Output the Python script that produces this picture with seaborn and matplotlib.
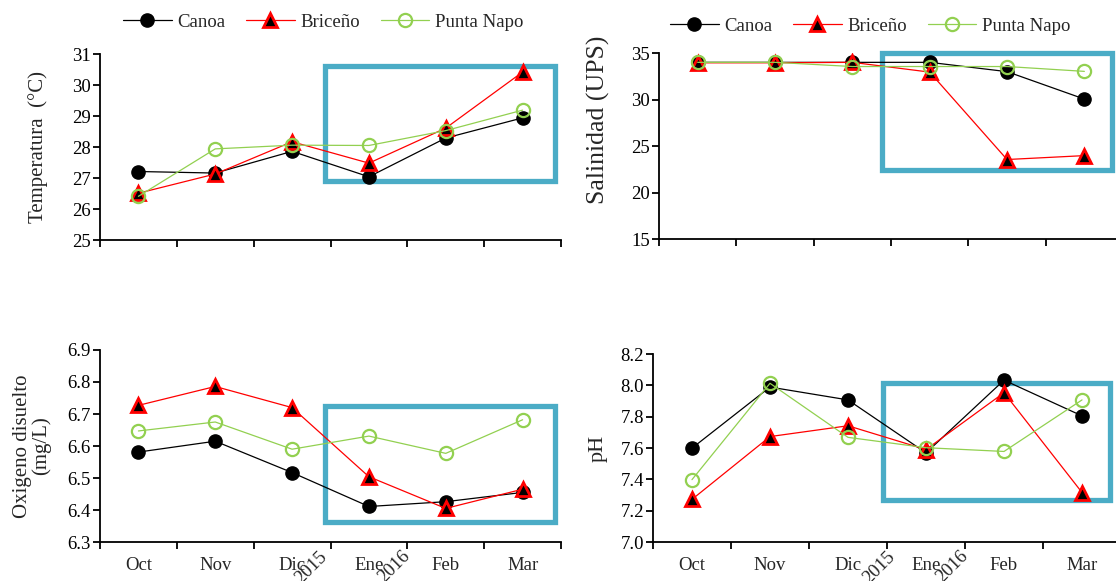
import numpy as np
import pandas as pd
import matplotlib
matplotlib.use("Agg")
import matplotlib.pyplot as plt
import matplotlib.patches as patches
import matplotlib.transforms as mtransforms
import seaborn as sns

# ---- data -------------------------------------------------------------
months = ["Oct", "Nov", "Dic", "Ene", "Feb", "Mar"]
sites = ["Canoa", "Briceño", "Punta Napo"]

temp_canoa = [27.21, 27.16, 27.86, 27.04, 28.29, 28.94]
temp_briceno = [26.51, 27.13, 28.17, 27.48, 28.61, 30.42]
temp_punta = [26.41, 27.94, 28.06, 28.05, 28.53, 29.19]

sal_canoa = [34.0, 34.0, 34.0, 34.0, 33.0, 30.05]
sal_briceno = [33.95, 33.95, 34.0, 32.95, 23.55, 23.97]
sal_punta = [34.0, 34.0, 33.55, 33.55, 33.55, 33.03]

oxi_canoa = [6.581, 6.615, 6.517, 6.411, 6.426, 6.455]
oxi_briceno = [6.727, 6.786, 6.720, 6.504, 6.405, 6.465]
oxi_punta = [6.647, 6.675, 6.590, 6.631, 6.577, 6.682]

ph_canoa = [7.599, 7.989, 7.907, 7.569, 8.033, 7.805]
ph_briceno = [7.272, 7.673, 7.742, 7.590, 7.953, 7.316]
ph_punta = [7.398, 8.013, 7.668, 7.602, 7.578, 7.907]

year_labels = ["2015", "2016"]

# ---- styling ----------------------------------------------------------
sns.set_theme(style="white")
plt.rcParams["font.family"] = "serif"
plt.rcParams["font.serif"] = ["Liberation Serif", "DejaVu Serif"]
plt.rcParams["axes.edgecolor"] = "black"
plt.rcParams["axes.linewidth"] = 1.3

FAMILY = ["Liberation Serif", "DejaVu Serif"]
GREEN = "#92D050"
TEAL = "#4BACC6"

site_styles = {
    "Canoa": dict(color="black", marker="o", markerfacecolor="black",
                  markeredgecolor="black", markersize=9.5, markeredgewidth=1.0),
    "Briceño": dict(color="red", marker="^", markerfacecolor="black",
                    markeredgecolor="red", markersize=9.5, markeredgewidth=2.0),
    "Punta Napo": dict(color=GREEN, marker="o", markerfacecolor="none",
                       markeredgecolor=GREEN, markersize=9.5, markeredgewidth=1.6),
}

TICK_FS = 13.5

fig = plt.figure(figsize=(11.16, 5.81), dpi=100)


def draw_panel(rect, series, ylim, yticks, yfmt, ylabel, ylabel_fs, ylabel_xy,
               box, show_months, year_x=None):
    ax = fig.add_axes(rect)
    df = pd.DataFrame({"mes": months * 3,
                       "valor": np.concatenate(series),
                       "sitio": np.repeat(sites, len(months))})
    for site in sites:
        sub = df[df["sitio"] == site]
        sns.lineplot(data=sub, x="mes", y="valor", ax=ax, sort=False,
                     label=site, linewidth=0.9, zorder=3,
                     **site_styles[site])
    ax.set_xlim(-0.5, 5.5)
    ax.set_ylim(*ylim)
    ax.set_yticks(yticks)
    ax.set_yticklabels([yfmt.format(v) for v in yticks], fontsize=TICK_FS,
                       family=FAMILY)

    ax.set_xticks(np.arange(-0.5, 6.0, 1.0))
    ax.set_xticklabels([])
    ax.set_xticks(np.arange(len(months)), minor=True)
    if show_months:
        ax.set_xticklabels(months, minor=True, fontsize=TICK_FS, family=FAMILY)
    else:
        ax.set_xticklabels([], minor=True)
    ax.tick_params(axis="x", which="minor", length=0, pad=11)
    ax.tick_params(axis="both", which="major", direction="out", length=5,
                   width=1.3, color="black", pad=1.5, labelcolor="black")
    ax.tick_params(left=True, bottom=True)
    for s in ("top", "right"):
        ax.spines[s].set_visible(False)

    ax.set_xlabel("")
    ax.set_ylabel(ylabel, fontsize=ylabel_fs, va="center", linespacing=1.0,
                  family=FAMILY)
    ax.yaxis.set_label_coords(*ylabel_xy)

    ax.get_legend().remove()

    x0, x1, y0, y1 = box
    ax.add_patch(patches.Rectangle((x0, y0), x1 - x0, y1 - y0, fill=False,
                                   edgecolor=TEAL, linewidth=3.8,
                                   clip_on=False, zorder=2))

    if year_x is not None:
        trans = mtransforms.blended_transform_factory(ax.transData, ax.transAxes)
        for xv, lab in zip(year_x, year_labels):
            ax.annotate(lab, xy=(xv, 0), xycoords=trans,
                        xytext=(0, -8.5), textcoords="offset points",
                        rotation=45, rotation_mode="anchor",
                        ha="right", va="center", fontsize=TICK_FS,
                        family=FAMILY, annotation_clip=False)
    return ax


ax_t = draw_panel([0.0896, 0.5869, 0.4131, 0.3201],
                  [temp_canoa, temp_briceno, temp_punta],
                  (25, 31), np.arange(25, 32, 1), "{:.0f}",
                  "Temperatura  (°C)", 15, (-0.135, 0.5),
                  (2.43, 5.42, 26.9, 30.62), False)

ax_s = draw_panel([0.5905, 0.5886, 0.4158, 0.3201],
                  [sal_canoa, sal_briceno, sal_punta],
                  (15, 35), np.arange(15, 36, 5), "{:.0f}",
                  "Salinidad (UPS)", 18.5, (-0.13, 0.64),
                  (2.38, 5.36, 22.4, 35.0), False)

ax_o = draw_panel([0.0896, 0.0671, 0.4131, 0.3305],
                  [oxi_canoa, oxi_briceno, oxi_punta],
                  (6.3, 6.9), np.round(np.arange(6.3, 6.91, 0.1), 1), "{:.1f}",
                  "Oxigeno disuelto\n(mg/L)", 15, (-0.147, 0.5),
                  (2.43, 5.42, 6.3625, 6.725), True, year_x=(2.42, 3.5))

ax_p = draw_panel([0.5851, 0.0671, 0.4194, 0.3236],
                  [ph_canoa, ph_briceno, ph_punta],
                  (7.0, 8.2), np.round(np.arange(7.0, 8.21, 0.2), 1), "{:.1f}",
                  "pH", 16, (-0.118, 0.5),
                  (2.45, 5.36, 7.268, 8.015), True, year_x=(2.57, 3.5))

# legends above the two upper panels
for ax, center in ((ax_t, (323 / 1116, 1 - 22 / 581)),
                   (ax_s, (870 / 1116, 1 - 26 / 581))):
    handles, labels = ax.get_legend_handles_labels()
    fig.legend(handles, labels, loc="center", bbox_to_anchor=center,
               bbox_transform=fig.transFigure, ncol=3, frameon=False,
               prop={"family": FAMILY, "size": TICK_FS},
               handlelength=2.6, handletextpad=0.3,
               columnspacing=1.1, borderpad=0, borderaxespad=0)

fig.savefig("out.png", dpi=100)
